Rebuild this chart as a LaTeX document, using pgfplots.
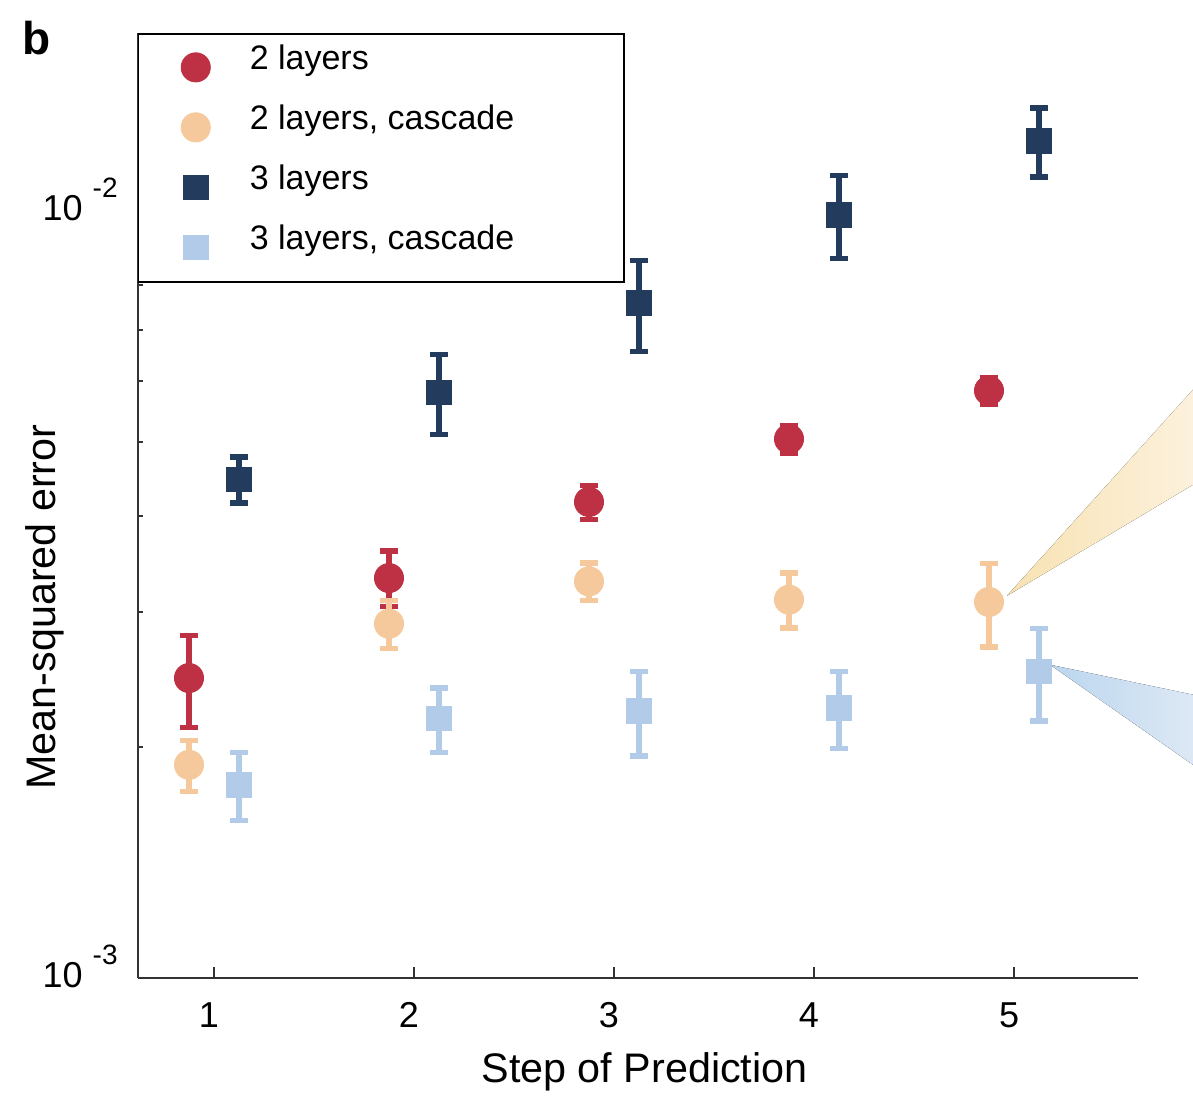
\documentclass[border=0pt]{standalone}
\usepackage{fontspec}
\setmainfont{Liberation Sans}
\usepackage{pgfplots}
\pgfplotsset{compat=1.18}

\definecolor{twoL}{HTML}{BE3145}
\definecolor{twoLc}{HTML}{F5C99B}
\definecolor{threeL}{HTML}{233C5E}
\definecolor{threeLc}{HTML}{B2CBE8}
\definecolor{fanYa}{HTML}{F8E2B2}
\definecolor{fanYb}{HTML}{FCF1DC}
\definecolor{fanBa}{HTML}{BBD6EE}
\definecolor{fanBb}{HTML}{DDE8F5}

% power-of-ten tick label with a raised, smaller exponent
\newcommand{\tenpow}[1]{10\hspace{5pt}\raisebox{11.5pt}{\fontsize{14}{14}\selectfont -#1}}
\newcommand{\legtext}[1]{\makebox[187pt][l]{#1}}

\begin{document}
\begin{tikzpicture}[x=1pt,y=1pt]
\useasboundingbox (0,0) rectangle (596.5,557.5);
\node[anchor=base west, inner sep=0pt, font=\bfseries\fontsize{23}{23}\selectfont] at (11,530) {b};
\begin{axis}[
  at={(69pt,68.65pt)}, anchor=south west,
  scale only axis, width=500pt, height=472.35pt,
  xmin=0.62, xmax=5.62,
  ymode=log, ymin=0.001, ymax=0.01705,
  clip=false,
  axis x line*=bottom, axis y line*=left,
  axis line style={line width=1pt, color=black!80},
  xtick={1,2,3,4,5},
  ytick={0.001,0.01},
  yticklabels={\tenpow{3},\tenpow{2}},
  minor ytick={0.002,0.003,0.004,0.005,0.006,0.007,0.008,0.009},
  tick align=inside,
  major tick length=5.5pt, minor tick length=2.5pt,
  tick style={line width=1pt, color=black!80},
  /pgf/number format/assume math mode=true,
  tick label style={font=\fontsize{18}{18}\selectfont},
  xticklabel style={anchor=base, inner sep=0pt, yshift=-25pt, xshift=-2.5pt},
  yticklabel style={anchor=base east, inner sep=0pt, xshift=-10pt, yshift=-5pt},
  xlabel={Step of Prediction},
  xlabel style={font=\fontsize{20.65}{24}\selectfont, at={(axis description cs:0.5065,0)}, anchor=base, yshift=-52.6pt, inner sep=0pt},
  ylabel={Mean-squared error},
  ylabel style={font=\fontsize{20.65}{24}\selectfont, at={(axis description cs:-0.082,0.3924)}, anchor=base, inner sep=0pt},
  legend cell align=left,
  legend style={at={(axis description cs:0,1)}, anchor=north west,
    draw=black, line width=0.75pt, fill=white,
    inner xsep=0pt, inner ysep=2pt, row sep=0pt, column sep=0pt,
    nodes={inner sep=0pt, text height=15.8pt, text depth=14.2pt,
           font=\fontsize{17}{17}\selectfont}},
  legend image code/.code={%
    \path[draw=none, fill=none] (-28.5pt,-14pt) rectangle (27pt,14pt);
    \draw[#1] plot coordinates {(0pt,0.2pt)};},
]

% fans leading to the next panel
\fill[left color=fanYa, right color=fanYb]
  (axis cs:4.965,0.003148) -- (axis cs:5.895,0.005844) -- (axis cs:5.895,0.004393) -- cycle;
\fill[left color=fanBa, right color=fanBb]
  (axis cs:5.18,0.002559) -- (axis cs:5.895,0.002339) -- (axis cs:5.895,0.001895) -- cycle;

% 2 layers
\addplot[only marks, mark=*, color=twoL, mark size=7.3pt,
  mark options={fill=twoL, draw=twoL, line width=0.4pt},
  error bars/.cd, y dir=both, y explicit,
  error bar style={line width=2.8pt, twoL},
  error mark options={rotate=90, twoL, mark size=4.65pt, line width=2.7pt}]
  table[x=x, y=y, y error plus=ep, y error minus=em] {
  x     y        ep       em
  0.875 0.002459 0.000336 0.000339
  1.875 0.003320 0.000280 0.000271
  2.875 0.004172 0.000212 0.000217
  3.875 0.005040 0.000211 0.000217
  4.875 0.005827 0.000237 0.000240
};
\addlegendentry{\legtext{2 layers}}

% 2 layers, cascade
\addplot[only marks, mark=*, color=twoLc, mark size=7.3pt,
  mark options={fill=twoLc, draw=twoLc, line width=0.4pt},
  error bars/.cd, y dir=both, y explicit,
  error bar style={line width=2.8pt, twoLc},
  error mark options={rotate=90, twoLc, mark size=4.65pt, line width=2.7pt}]
  table[x=x, y=y, y error plus=ep, y error minus=em] {
  x     y        ep       em
  0.875 0.001895 0.000144 0.000147
  1.875 0.002894 0.000207 0.000206
  2.875 0.003287 0.000186 0.000183
  3.875 0.003111 0.000261 0.000254
  4.875 0.003090 0.000380 0.000390
};
\addlegendentry{\legtext{2 layers, cascade}}

% 3 layers
\addplot[only marks, mark=square*, color=threeL, mark size=6.1pt,
  mark options={fill=threeL, draw=threeL, line width=0.4pt},
  error bars/.cd, y dir=both, y explicit,
  error bar style={line width=2.8pt, threeL},
  error mark options={rotate=90, threeL, mark size=4.65pt, line width=2.7pt}]
  table[x=x, y=y, y error plus=ep, y error minus=em] {
  x     y        ep       em
  1.125 0.004468 0.000306 0.000310
  2.125 0.005792 0.000700 0.000687
  3.125 0.007580 0.001035 0.001025
  4.125 0.009880 0.001230 0.001222
  5.125 0.012330 0.001280 0.001270
};
\addlegendentry{\legtext{3 layers}}

% 3 layers, cascade
\addplot[only marks, mark=square*, color=threeLc, mark size=6.1pt,
  mark options={fill=threeLc, draw=threeLc, line width=0.4pt},
  error bars/.cd, y dir=both, y explicit,
  error bar style={line width=2.8pt, threeLc},
  error mark options={rotate=90, threeLc, mark size=4.65pt, line width=2.7pt}]
  table[x=x, y=y, y error plus=ep, y error minus=em] {
  x     y        ep       em
  1.125 0.001785 0.000181 0.000183
  2.125 0.002178 0.000208 0.000212
  3.125 0.002229 0.000277 0.000282
  4.125 0.002247 0.000259 0.000258
  5.125 0.002508 0.000343 0.000347
};
\addlegendentry{\legtext{3 layers, cascade}}

\end{axis}
\end{tikzpicture}
\end{document}
